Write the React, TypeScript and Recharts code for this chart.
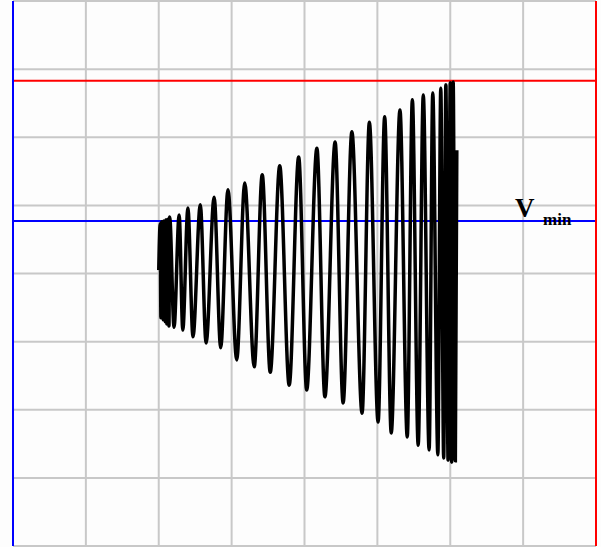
import { LineChart, Line, XAxis, YAxis, CartesianGrid, ReferenceLine } from 'recharts';

// trace, in grid divisions (x: 0..8, y: -4..4)
const traceX = [
  2.0, 2.02, 2.03, 2.04, 2.06, 2.07, 2.09, 2.1, 2.11, 2.13, 2.14, 2.15, 2.21, 2.28, 2.33, 2.4, 2.47, 2.57, 2.65, 2.76,
  2.85, 2.95, 3.07, 3.18, 3.31, 3.42, 3.53, 3.66, 3.79, 3.92, 4.03, 4.17, 4.28, 4.42, 4.53, 4.65, 4.79, 4.89, 5.01, 5.1,
  5.19, 5.31, 5.41, 5.48, 5.56, 5.63, 5.71, 5.76, 5.83, 5.87, 5.91, 5.94, 5.97, 6.0, 6.02, 6.04, 6.07, 6.09,
];
const traceY = [
  0.05, 0.73, -0.65, 0.76, -0.68, 0.77, -0.71, 0.79, -0.74, 0.8, -0.77, 0.83, -0.79, 0.86, -0.83, 0.96, -0.93, 1.01, -1.02, 1.12,
  -1.09, 1.23, -1.27, 1.33, -1.37, 1.45, -1.45, 1.58, -1.64, 1.71, -1.71, 1.84, -1.81, 1.93, -1.9, 2.08, -2.05, 2.22, -2.18, 2.3,
  -2.34, 2.4, -2.4, 2.55, -2.52, 2.62, -2.59, 2.65, -2.66, 2.72, -2.71, 2.77, -2.74, 2.8, -2.77, 2.81, -2.75, 1.81,
];

const xTicks = [0, 1, 2, 3, 4, 5, 6, 7, 8];
const yTicks = [-4, -3, -2, -1, 0, 1, 2, 3, 4];

const maxLevel = 2.83; // red
const minLevel = 0.77; // blue, V min

const data = traceX.map((x, i) => ({ x, v: traceY[i] }));

export default function App() {
  return (
    <div style={{ position: 'absolute', left: 0, top: 0, width: 601, height: 547, background: '#fdfdfd' }}>
      <LineChart width={601} height={547} data={data} margin={{ top: 1, right: 5, bottom: 1, left: 13 }}>
        <CartesianGrid stroke="#c8c8c8" strokeWidth={2} />
        <XAxis type="number" dataKey="x" domain={[0, 8]} ticks={xTicks} hide />
        <YAxis type="number" domain={[-4, 4]} ticks={yTicks} hide />
        <ReferenceLine y={maxLevel} stroke="#ff0000" strokeWidth={2} />
        <ReferenceLine y={minLevel} stroke="#0000ff" strokeWidth={2} />
        <ReferenceLine x={0} stroke="#0000ff" strokeWidth={2} />
        <ReferenceLine x={8} stroke="#ff0000" strokeWidth={2} />
        <Line type="monotoneX" dataKey="v" stroke="#000" strokeWidth={3.5} dot={false} isAnimationActive={false} />
      </LineChart>
      <div
        style={{
          position: 'absolute',
          left: 515,
          top: 195,
          fontFamily: '"Liberation Serif", serif',
          fontWeight: 'bold',
          fontSize: 27,
          lineHeight: '27px',
          color: '#000',
        }}
      >
        V
      </div>
      <div
        style={{
          position: 'absolute',
          left: 543,
          top: 211,
          fontFamily: '"Liberation Serif", serif',
          fontWeight: 'bold',
          fontSize: 17,
          lineHeight: '17px',
          color: '#000',
        }}
      >
        min
      </div>
    </div>
  );
}
